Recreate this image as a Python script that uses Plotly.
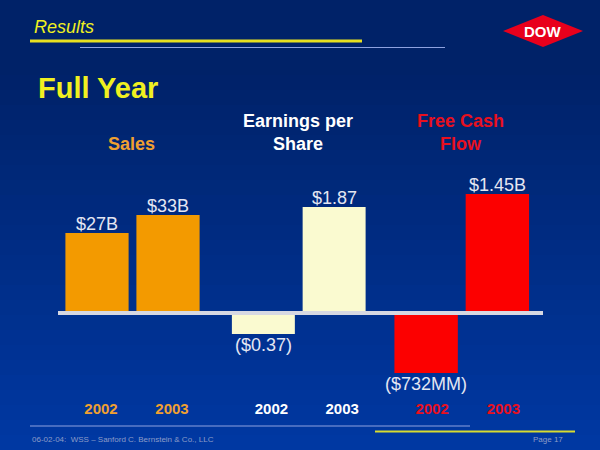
import plotly.graph_objects as go

W, H = 600, 450

years = ["2002", "2003"]
sales = [27, 33]
sales_labels = ["$27B", "$33B"]
eps = [-0.37, 1.87]
eps_labels = ["($0.37)", "$1.87"]
fcf = [-0.732, 1.45]
fcf_labels = ["($732MM)", "$1.45B"]

FONT = "Arial, Liberation Sans, sans-serif"


def fx(px):
    return px / W


def fy(py):
    return 1 - py / H


# plot band shared by the three small bar panels (pixels from top)
TOP, BOTTOM, ZERO = 150, 394, 313

panels = [
    dict(values=sales, labels=sales_labels, bar="#f39a00", tick="#f0a030",
         x0=61.5, x1=203.5, ppu=2.967, shift=4),
    dict(values=eps, labels=eps_labels, bar="#fafad0", tick="#ffffff",
         x0=228, x1=369.5, ppu=56.7, shift=8),
    dict(values=fcf, labels=fcf_labels, bar="#fc0000", tick="#e8101e",
         x0=390.5, x1=533, ppu=82, shift=6),
]

fig = go.Figure()
layout = dict(
    width=W, height=H,
    margin=dict(l=0, r=0, t=0, b=0),
    paper_bgcolor="#002266",
    plot_bgcolor="rgba(0,0,0,0)",
    showlegend=False,
    bargap=0.11,
    font=dict(family=FONT),
)

for i, p in enumerate(panels, start=1):
    suffix = "" if i == 1 else str(i)
    fig.add_trace(go.Bar(
        x=years, y=p["values"],
        marker=dict(color=p["bar"], line=dict(width=0)),
        xaxis="x" + suffix, yaxis="y" + suffix, hoverinfo="skip",
    ))
    # value labels hugging the bar ends (category axes take the serial number)
    for idx, (v, lab) in enumerate(zip(p["values"], p["labels"])):
        fig.add_annotation(
            text=lab, x=idx, y=v, xref="x" + suffix, yref="y" + suffix,
            xanchor="center", yanchor="bottom" if v > 0 else "top",
            yshift=-3 if v > 0 else 1, showarrow=False,
            font=dict(family=FONT, size=18, color="#e4e6f2"),
        )
    layout["xaxis" + suffix] = dict(
        domain=[fx(p["x0"]), fx(p["x1"])], anchor="y" + suffix,
        type="category", range=[-0.5, 1.5],
        showgrid=False, zeroline=False, showline=False,
        ticks="", ticklabelshift=p["shift"], ticklabelstandoff=4,
        tickfont=dict(family=FONT, size=15, color=p["tick"], weight="bold"),
    )
    layout["yaxis" + suffix] = dict(
        domain=[fy(BOTTOM), fy(TOP)], anchor="x" + suffix,
        range=[-(BOTTOM - ZERO) / p["ppu"], (ZERO - TOP) / p["ppu"]],
        showgrid=False, zeroline=False, showline=False, showticklabels=False,
    )

fig.update_layout(**layout)

# background gradient, dark navy at top to brighter blue at bottom
shapes = []
bands = 30
for k in range(bands):
    t = max(0.0, (k * H / bands - 60) / (H - 60))
    r, g, b = 0, int(34 + (57 - 34) * t), int(104 + (165 - 104) * t)
    shapes.append(dict(type="rect", xref="paper", yref="paper", layer="below",
                       x0=0, x1=1, y0=fy((k + 1) * H / bands + 1), y1=fy(k * H / bands),
                       fillcolor=f"rgb({r},{g},{b})", line=dict(width=0)))

# header rules
shapes.append(dict(type="line", xref="paper", yref="paper", x0=fx(30), x1=fx(362),
                   y0=fy(41), y1=fy(41), line=dict(color="#e8e020", width=3)))
shapes.append(dict(type="line", xref="paper", yref="paper", x0=fx(80), x1=fx(445),
                   y0=fy(47.5), y1=fy(47.5), line=dict(color="#8ea2e0", width=1)))
# footer rules
shapes.append(dict(type="line", xref="paper", yref="paper", x0=fx(30), x1=fx(470),
                   y0=fy(426), y1=fy(426), line=dict(color="#8ea2e0", width=1)))
shapes.append(dict(type="line", xref="paper", yref="paper", x0=fx(375), x1=fx(575),
                   y0=fy(431.5), y1=fy(431.5), line=dict(color="#d8dc30", width=2)))
# baseline across all three panels
shapes.append(dict(type="line", xref="paper", yref="paper", x0=fx(58), x1=fx(543),
                   y0=fy(ZERO), y1=fy(ZERO), line=dict(color="#d6d8e2", width=4)))
# Dow diamond
shapes.append(dict(type="path", xref="paper", yref="paper",
                   path=f"M {fx(503)},{fy(31)} L {fx(543)},{fy(15)} L {fx(583)},{fy(31)} L {fx(543)},{fy(47)} Z",
                   fillcolor="#e8001c", line=dict(width=0)))
fig.update_layout(shapes=shapes)


def note(text, x, y, size, color, anchor="center", bold=False, italic=False):
    fig.add_annotation(
        text=text, x=fx(x), y=fy(y), xref="paper", yref="paper",
        xanchor=anchor, yanchor="middle", showarrow=False,
        font=dict(family=FONT, size=size, color=color,
                  weight="bold" if bold else "normal",
                  style="italic" if italic else "normal"),
    )


note("Results", 32, 27, 18, "#f0f020", anchor="left", italic=True)
note("Full Year", 36, 88, 29, "#f0f020", anchor="left", bold=True)
note("DOW", 543, 31, 15, "#ffffff", bold=True)
note("Sales", 131, 144, 18, "#f0a030", bold=True)
note("Earnings per<br>Share", 298, 132, 18, "#ffffff", bold=True)
note("Free Cash<br>Flow", 460, 132, 18, "#e8101e", bold=True)
note("06-02-04:  WSS \u2013 Sanford C. Bernstein &amp; Co., LLC", 30, 439, 8, "#8c9cc8", anchor="left")
note("Page 17", 548, 439, 8, "#8c9cc8")

# drop the page's default body margin so the slide sits flush in the window
fig.write_html("out.html", config={"displayModeBar": False},
               post_script="document.body.style.margin='0';document.body.style.overflow='hidden';")
